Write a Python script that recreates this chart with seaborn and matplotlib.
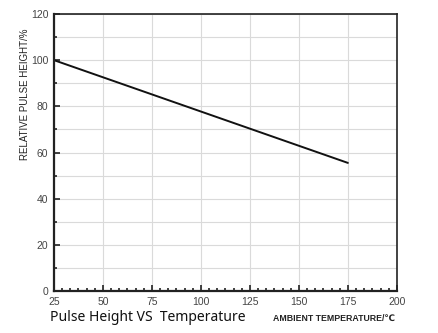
import matplotlib
matplotlib.use("Agg")
import matplotlib.pyplot as plt
from matplotlib.ticker import MultipleLocator, AutoMinorLocator
import seaborn as sns
import pandas as pd

# data
temperature = [25, 175]
pulse_height = [100, 55.5]

sns.set_style("white")
plt.rcParams['font.family'] = ['Liberation Sans', 'DejaVu Sans']

df = pd.DataFrame({"temp": temperature, "height": pulse_height})

fig = plt.figure(figsize=(4.39, 3.33), dpi=100)
ax = fig.add_axes([0.123, 0.126, 0.781, 0.832])

sns.lineplot(data=df, x="temp", y="height", color="#111111", linewidth=1.4, ax=ax)

ax.set_xlim(25, 200)
ax.set_ylim(0, 120)
ax.xaxis.set_major_locator(MultipleLocator(25))
ax.xaxis.set_minor_locator(AutoMinorLocator(6))
ax.yaxis.set_major_locator(MultipleLocator(20))
ax.yaxis.set_minor_locator(MultipleLocator(10))

ax.grid(True, which="major", axis="x", color="#dadada", linewidth=0.8)
ax.grid(True, which="both", axis="y", color="#dadada", linewidth=0.8)
ax.set_axisbelow(True)

ax.tick_params(which="both", direction="in", colors="#222222", labelcolor="#444444",
               labelsize=7.5, bottom=True, left=True, top=False, right=False)
ax.tick_params(which="major", length=4.5, width=1.2, pad=4)
ax.tick_params(which="minor", length=2.5, width=1.2)

for side, sp in ax.spines.items():
    sp.set_color("#222222")
    sp.set_linewidth(1.6 if side in ("left", "bottom") else 1.2)

ax.set_xlabel("")
ax.set_ylabel("RELATIVE PULSE HEIGHT/%", fontsize=7, color="#222222")
ax.yaxis.set_label_coords(-0.07, 0.71)

fig.text(0.113, 0.035, "Pulse Height VS  Temperature", fontsize=10,
         family=["Noto Sans", "DejaVu Sans"], color="#111111")
fig.text(0.622, 0.035, "AMBIENT TEMPERATURE/℃", fontsize=6.3, fontweight="bold",
         color="#222222")

fig.savefig("out.png", dpi=100)
